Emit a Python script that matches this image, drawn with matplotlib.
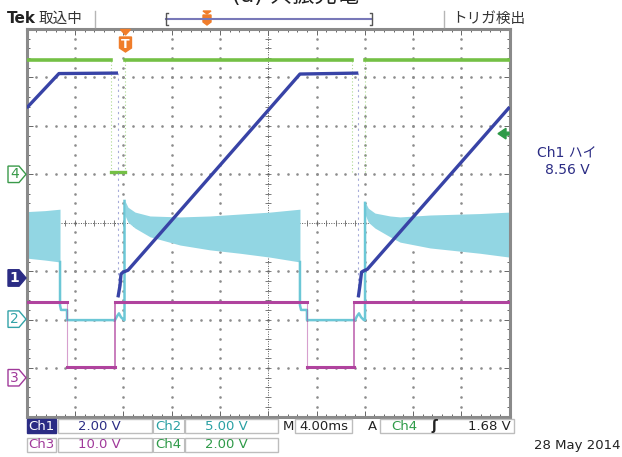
import numpy as np
import matplotlib.pyplot as plt
from matplotlib.patches import Polygon, Rectangle
from matplotlib import transforms

plt.rcParams['font.family'] = ['DejaVu Sans', 'Noto Sans CJK JP']

# time in ms (4 ms/div, 10 div), levels in divisions (8 div)
trig_ms = 8.18

# Ch1 (blue) - ramp / plateau
ch1_a_t = [0, 2.67, 7.56]
ch1_a_v = [2.37, 3.08, 3.09]
ch1_b_t = [7.56, 7.73, 7.81, 7.98, 8.39, 22.63, 27.46]
ch1_b_v = [-1.54, -1.29, -1.06, -1.02, -0.98, 3.07, 3.09]
ch1_c_t = [27.46, 27.60, 27.73, 27.85, 28.21, 40.0]
ch1_c_v = [-1.54, -1.29, -1.02, -1.00, -0.96, 2.39]
ch1_drops = [7.56, 27.46]

# Ch2 (cyan) - oscillation envelope
ch2_a_t = [0, 1.5, 2.76]
ch2_a_hi = [0.23, 0.25, 0.28]
ch2_a_lo = [-0.73, -0.77, -0.81]
ch2_b_t = [8.14, 8.39, 8.97, 10.21, 12.70, 15.18, 17.67, 20.15, 22.63]
ch2_b_hi = [0.45, 0.32, 0.22, 0.14, 0.12, 0.14, 0.18, 0.22, 0.28]
ch2_b_lo = [0.15, 0.01, -0.11, -0.29, -0.46, -0.56, -0.63, -0.71, -0.81]
ch2_c_t = [28.06, 28.29, 28.84, 30.09, 30.92, 33.40, 37.54, 40.0]
ch2_c_hi = [0.41, 0.30, 0.20, 0.14, 0.12, 0.16, 0.19, 0.22]
ch2_c_lo = [0.15, 0.01, -0.11, -0.29, -0.40, -0.52, -0.63, -0.71]
# Ch2 low parts
ch2_l1_t = [2.76, 2.76, 2.84, 3.25, 3.34, 3.34, 7.31, 7.48, 7.64, 7.81, 8.06, 8.10, 8.10]
ch2_l2_t = [22.63, 22.63, 22.72, 23.13, 23.21, 23.21, 27.19, 27.35, 27.52, 27.69, 27.93, 28.02, 28.02]
ch2_l1_v = [-0.81, -1.70, -1.80, -1.80, -1.80, -2.01, -2.01, -1.93, -1.87, -1.95, -2.01, -2.01, 0.45]
ch2_l2_v = [-0.81, -1.70, -1.80, -1.80, -1.80, -2.01, -2.01, -1.93, -1.87, -1.95, -2.01, -2.01, 0.41]

# Ch3 (magenta) gate
ch3_hi = -1.63
ch3_lo = -2.98
ch3_fall = [3.34, 23.19]
ch3_rise = [7.31, 27.11]

# Ch4 (green)
ch4_hi = 3.36
ch4_lo = 1.04
ch4_gaps = [(6.99, 8.14), (26.92, 28.02)]

# channel ground markers
markers = [('4', 1.0, '#3a9a4a', False), ('1', -1.14, '#2b2c84', True),
           ('2', -1.99, '#33a3a8', False), ('3', -3.20, '#a0399a', False)]
trig_level = 1.84

c_blue = '#3843a6'
c_cyan = '#92d6e3'
c_cyan_line = '#6cc7d6'
c_mag = '#b0439e'
c_green = '#74c045'
c_orange = '#f07d2a'

fig = plt.figure(figsize=(6.22, 4.57), dpi=100)
pix = fig.add_axes([0, 0, 1, 1])
pix.set_xlim(0, 622)
pix.set_ylim(457, 0)
pix.axis('off')
pix.set_zorder(10)

ax = fig.add_axes([26.7 / 622, 1 - 416.5 / 457, 483 / 622, 387.5 / 457])
ax.set_xlim(0, 40)
ax.set_ylim(-4, 4)
ax.set_facecolor('white')

# graticule
for k in range(1, 10):
    if k == 5:
        continue
    ax.plot(np.full(41, k * 4.0), np.linspace(-4, 4, 41), ls='none', marker='s',
            ms=0.8, color='#8c8c8c', zorder=1)
for k in range(-3, 4):
    if k == 0:
        continue
    ax.plot(np.linspace(0, 40, 51), np.full(51, float(k)), ls='none', marker='s',
            ms=0.8, color='#8c8c8c', zorder=1)
ax.axhline(0, ls=(0, (1, 1.5)), color='#555555', lw=0.7, zorder=1)
ax.axvline(20, ls=(0, (1, 1.5)), color='#555555', lw=0.7, zorder=1)
ax.plot(np.linspace(0, 40, 51), np.zeros(51), ls='none', marker='|', ms=4,
        mew=0.6, color='#666666', zorder=1)
ax.plot(np.full(41, 20.0), np.linspace(-4, 4, 41), ls='none', marker='_', ms=4,
        mew=0.6, color='#666666', zorder=1)

ax.set_xticks(np.arange(0, 40.1, 4))
ax.set_xticks(np.arange(0, 40.1, 0.8), minor=True)
ax.set_yticks(np.arange(-4, 4.1, 1))
ax.set_yticks(np.arange(-4, 4.1, 0.2), minor=True)
ax.tick_params(which='both', direction='in', top=True, right=True,
               labelbottom=False, labelleft=False, color='#666666', width=0.7)
ax.tick_params(which='major', length=4)
ax.tick_params(which='minor', length=2.5)
for s in ax.spines.values():
    s.set_color('#8a8a8a')
    s.set_linewidth(2.2)

# Ch2 band and lines
for t, hi, lo in [(ch2_a_t, ch2_a_hi, ch2_a_lo), (ch2_b_t, ch2_b_hi, ch2_b_lo),
                  (ch2_c_t, ch2_c_hi, ch2_c_lo)]:
    ax.fill_between(t, lo, hi, color=c_cyan, lw=0, zorder=2)
for t, v in [(ch2_l1_t, ch2_l1_v), (ch2_l2_t, ch2_l2_v)]:
    ax.plot(t, v, color=c_cyan_line, lw=1.8, zorder=3)

# Ch4
ax.plot([0, ch4_gaps[0][0]], [ch4_hi, ch4_hi], color=c_green, lw=2.6, zorder=3)
ax.plot([ch4_gaps[0][1], ch4_gaps[1][0]], [ch4_hi, ch4_hi], color=c_green, lw=2.6, zorder=3)
ax.plot([ch4_gaps[1][1], 40], [ch4_hi, ch4_hi], color=c_green, lw=2.6, zorder=3)
ax.plot(ch4_gaps[0], [ch4_lo, ch4_lo], color=c_green, lw=2.4, zorder=3)
for g in ch4_gaps:
    for t in g:
        ax.plot([t, t], [ch4_lo, ch4_hi], color=c_green, lw=0.8, ls=(0, (1, 2)),
                alpha=0.6, zorder=3)

# Ch3
ch3_t = [0, ch3_fall[0], ch3_rise[0], ch3_fall[1], ch3_rise[1], 40]
ax.plot(ch3_t[0:2], [ch3_hi] * 2, color=c_mag, lw=2.2, zorder=3)
ax.plot(ch3_t[1:3], [ch3_lo] * 2, color=c_mag, lw=2.2, zorder=3)
ax.plot(ch3_t[2:4], [ch3_hi] * 2, color=c_mag, lw=2.2, zorder=3)
ax.plot(ch3_t[3:5], [ch3_lo] * 2, color=c_mag, lw=2.2, zorder=3)
ax.plot(ch3_t[4:6], [ch3_hi] * 2, color=c_mag, lw=2.2, zorder=3)
for t in ch3_fall:
    ax.plot([t, t], [ch3_lo, ch3_hi], color=c_mag, lw=0.8, alpha=0.5, zorder=3)
for t in ch3_rise:
    ax.plot([t, t], [ch3_lo, ch3_hi], color=c_mag, lw=1.2, alpha=0.8, zorder=3)

# Ch1
for t, v in [(ch1_a_t, ch1_a_v), (ch1_b_t, ch1_b_v), (ch1_c_t, ch1_c_v)]:
    ax.plot(t, v, color=c_blue, lw=2.4, zorder=5, solid_capstyle='butt')
for t in ch1_drops:
    ax.plot([t, t], [-1.54, 3.09], color='#8088c8', lw=0.8, ls=(0, (2, 3)),
            alpha=0.7, zorder=4)

# trigger level arrow (right)
tr = transforms.blended_transform_factory(pix.transData, ax.transData)
pix.add_patch(Polygon([(498, trig_level), (506, trig_level + 0.11), (506, trig_level + 0.03),
                       (509, trig_level + 0.03), (509, trig_level - 0.03),
                       (506, trig_level - 0.03), (506, trig_level - 0.11)],
                      closed=True, transform=tr, color='#2e9a48'))

# channel ground markers (left)
for lab, lvl, col, filled in markers:
    pts = [(8, lvl + 0.17), (19, lvl + 0.17), (26, lvl), (19, lvl - 0.17), (8, lvl - 0.17)]
    pix.add_patch(Polygon(pts, closed=True, transform=tr, facecolor=col if filled else 'white',
                          edgecolor=col, lw=1.0))
    pix.text(14.5, lvl, lab, transform=tr, ha='center', va='center', fontsize=10,
             color='white' if filled else col, fontweight='bold' if filled else 'normal')

# trigger position marker (top of graticule)
tpx = 26.7 + trig_ms / 40 * 483
pix.add_patch(Polygon([(tpx - 5, 29.5), (tpx + 5, 29.5), (tpx, 35)], closed=True, color=c_orange))
pix.add_patch(Polygon([(tpx - 6, 37), (tpx + 6, 37), (tpx + 6, 48), (tpx, 52), (tpx - 6, 48)],
                      closed=True, color=c_orange))
pix.text(tpx, 44, 'T', ha='center', va='center', color='white', fontsize=9, fontweight='bold')

# header
pix.text(295, 6, '(a) 共振充電', ha='center', va='bottom', fontsize=16, color='#222222')
pix.text(7, 18.5, 'Tek', ha='left', va='center', fontsize=11, fontweight='bold', color='#222222')
pix.text(39, 18.5, '取込中', ha='left', va='center', fontsize=10.5, color='#333333')
pix.plot([95, 95], [11, 27], color='#b5b5b5', lw=1)
pix.plot([444, 444], [11, 27], color='#b5b5b5', lw=1)
pix.plot([166, 372], [19, 19], color='#7878b8', lw=1.5)
pix.plot([168, 166, 166, 168], [13, 13, 25, 25], color='#555555', lw=1)
pix.plot([370, 372, 372, 370], [13, 13, 25, 25], color='#555555', lw=1)
pix.add_patch(Polygon([(203, 11), (211, 11), (207, 14)], closed=True, color=c_orange))
pix.add_patch(Polygon([(203, 15), (211, 15), (211, 22), (207, 25), (203, 22)], closed=True,
                      color=c_orange))
pix.text(452, 18.5, 'トリガ検出', ha='left', va='center', fontsize=10.5, color='#333333')

# right readout
pix.text(567, 153, 'Ch1 ハイ', ha='center', va='center', fontsize=10, color='#2b2c84')
pix.text(567, 170, '8.56 V', ha='center', va='center', fontsize=10, color='#2b2c84')

# status bar
box_ec = '#bdbdbd'
rows = [426, 444.5]
h = 14
pix.add_patch(Rectangle((27, rows[0] - h / 2), 29, h, facecolor='#2b2c84', edgecolor='#2b2c84'))
pix.text(41.5, rows[0], 'Ch1', ha='center', va='center', fontsize=9.5, color='white')
pix.add_patch(Rectangle((58, rows[0] - h / 2), 94, h, fill=False, edgecolor=box_ec, lw=1))
pix.text(99, rows[0], '2.00 V', ha='center', va='center', fontsize=9.5, color='#2b2c84')
pix.add_patch(Rectangle((153, rows[0] - h / 2), 31, h, fill=False, edgecolor=box_ec, lw=0.8))
pix.text(168.5, rows[0], 'Ch2', ha='center', va='center', fontsize=9.5, color='#2aa0a3')
pix.add_patch(Rectangle((185, rows[0] - h / 2), 93, h, fill=False, edgecolor=box_ec, lw=1))
pix.text(226, rows[0], '5.00 V', ha='center', va='center', fontsize=9.5, color='#2aa0a3')
pix.text(288, rows[0], 'M', ha='center', va='center', fontsize=9.5, color='#222222')
pix.add_patch(Rectangle((295, rows[0] - h / 2), 57, h, fill=False, edgecolor=box_ec, lw=1))
pix.text(323.5, rows[0], '4.00ms', ha='center', va='center', fontsize=9.5, color='#222222')
pix.text(372, rows[0], 'A', ha='center', va='center', fontsize=9.5, color='#222222')
pix.add_patch(Rectangle((380, rows[0] - h / 2), 134, h, fill=False, edgecolor=box_ec, lw=1))
pix.text(404, rows[0], 'Ch4', ha='center', va='center', fontsize=9.5, color='#2e9a48')
pix.text(434, rows[0], 'ʃ', ha='center', va='center', fontsize=10, fontweight='bold', color='#222222')
pix.text(511, rows[0], '1.68 V', ha='right', va='center', fontsize=9.5, color='#222222')

pix.add_patch(Rectangle((27, rows[1] - h / 2), 29, h, fill=False, edgecolor=box_ec, lw=1))
pix.text(41.5, rows[1], 'Ch3', ha='center', va='center', fontsize=9.5, color='#a0399a')
pix.add_patch(Rectangle((58, rows[1] - h / 2), 94, h, fill=False, edgecolor=box_ec, lw=1))
pix.text(99, rows[1], '10.0 V', ha='center', va='center', fontsize=9.5, color='#a0399a')
pix.add_patch(Rectangle((153, rows[1] - h / 2), 31, h, fill=False, edgecolor=box_ec, lw=0.8))
pix.text(168.5, rows[1], 'Ch4', ha='center', va='center', fontsize=9.5, color='#2e9a48')
pix.add_patch(Rectangle((185, rows[1] - h / 2), 93, h, fill=False, edgecolor=box_ec, lw=1))
pix.text(226, rows[1], '2.00 V', ha='center', va='center', fontsize=9.5, color='#2e9a48')
pix.text(620, 446, '28 May 2014', ha='right', va='center', fontsize=9.5, color='#222222')

fig.savefig('out.png', dpi=100)
